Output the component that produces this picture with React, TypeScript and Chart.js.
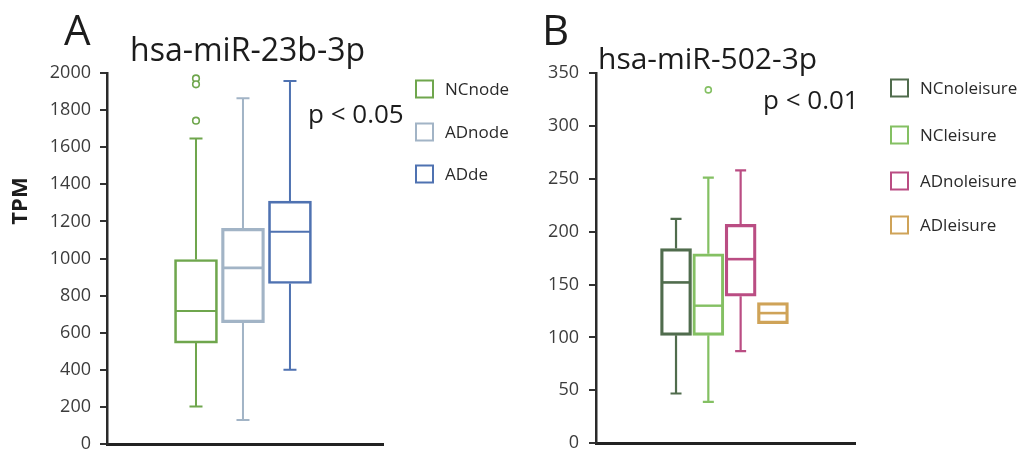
import React, { useEffect, useRef } from 'react';
import { Chart, registerables } from 'chart.js';
Chart.register(...registerables);

const FONT = '"Open Sans", "Noto Sans", sans-serif';

// ---------- Panel A: hsa-miR-23b-3p ----------
const groupsA = ['NCnode', 'ADnode', 'ADde'];
const colorsA = ['#6fa64d', '#a2b4c6', '#4f72b1'];
const minA = [203, 131, 401];
const q1A = [545, 655, 866];
const medA = [717, 950, 1144];
const q3A = [995, 1163, 1310];
const maxA = [1647, 1864, 1957];
const outliersA = [[1971, 1939, 1743], [], []];
const ticksA = { min: 0, max: 2000, step: 200 };

// ---------- Panel B: hsa-miR-502-3p ----------
const groupsB = ['NCnoleisure', 'NCleisure', 'ADnoleisure', 'ADleisure'];
const colorsB = ['#506c4d', '#84c063', '#ba4d83', '#cfa358'];
const minB = [47, 39, 87, 113];
const q1B = [102, 102, 139, 113];
const medB = [152, 130, 174, 123];
const q3B = [184, 179, 207, 133];
const maxB = [212, 251, 258, 133];
const outliersB = [[], [334], [], []];
const ticksB = { min: 0, max: 350, step: 50 };

type Panel = {
  groups: string[];
  colors: string[];
  min: number[];
  q1: number[];
  med: number[];
  q3: number[];
  max: number[];
  outliers: number[][];
  ticks: { min: number; max: number; step: number };
  xMin: number;
  xMax: number;
  barThickness: number;
  boxLine: number[];
  capWidth: number;
  whiskerLine: number;
  pointRadius: number;
  yWidth: number;
  tickPad: number;
  padding: { top: number; right: number; bottom: number; left: number };
  texts: { text: string; x: number; y: number; size: number; weight?: string; rotate?: boolean }[];
  legend: { x: number; textX: number; ys: number[]; size: number };
};

function makeChart(canvas: HTMLCanvasElement, p: Panel) {
  const datasets: any[] = p.groups.map((g, i) => ({
    type: 'bar',
    label: g,
    data: [{ x: i + 1, y: [p.q1[i], p.q3[i]] }],
    backgroundColor: 'rgba(255,255,255,0)',
    borderColor: p.colors[i],
    borderWidth: p.boxLine[i],
    borderSkipped: false,
    grouped: false,
    barThickness: p.barThickness,
  }));
  const outPts: any[] = [];
  const outCols: string[] = [];
  p.outliers.forEach((arr, i) =>
    arr.forEach((v) => {
      outPts.push({ x: i + 1, y: v });
      outCols.push(p.colors[i]);
    })
  );
  datasets.push({
    type: 'scatter',
    label: 'outliers',
    data: outPts,
    pointRadius: p.pointRadius,
    pointBorderWidth: 1.6,
    pointBorderColor: outCols,
    pointBackgroundColor: '#ffffff',
  });

  const boxPlugin = {
    id: 'boxWhiskers',
    afterDatasetsDraw(chart: any) {
      const { ctx } = chart;
      const xs = chart.scales.x;
      const ys = chart.scales.y;
      p.groups.forEach((_g, i) => {
        const el: any = chart.getDatasetMeta(i).data[0];
        const cx = xs.getPixelForValue(i + 1);
        const half = el.width / 2;
        const lw = p.boxLine[i];
        ctx.save();
        ctx.strokeStyle = p.colors[i];
        ctx.lineWidth = lw;
        const ym = ys.getPixelForValue(p.med[i]);
        ctx.beginPath();
        ctx.moveTo(cx - half + lw / 2, ym);
        ctx.lineTo(cx + half - lw / 2, ym);
        ctx.stroke();
        ctx.lineWidth = p.whiskerLine;
        const cw = p.capWidth / 2;
        if (p.max[i] > p.q3[i]) {
          const a = ys.getPixelForValue(p.q3[i]);
          const b = ys.getPixelForValue(p.max[i]);
          ctx.beginPath();
          ctx.moveTo(cx, a);
          ctx.lineTo(cx, b);
          ctx.moveTo(cx - cw, b);
          ctx.lineTo(cx + cw, b);
          ctx.stroke();
        }
        if (p.min[i] < p.q1[i]) {
          const a = ys.getPixelForValue(p.q1[i]);
          const b = ys.getPixelForValue(p.min[i]);
          ctx.beginPath();
          ctx.moveTo(cx, a);
          ctx.lineTo(cx, b);
          ctx.moveTo(cx - cw, b);
          ctx.lineTo(cx + cw, b);
          ctx.stroke();
        }
        ctx.restore();
      });
    },
  };

  const textPlugin = {
    id: 'panelTexts',
    afterDraw(chart: any) {
      const { ctx } = chart;
      ctx.save();
      p.texts.forEach((t) => {
        ctx.font = `${t.weight || 'normal'} ${t.size}px ${FONT}`;
        ctx.fillStyle = '#1c1c1c';
        if (t.rotate) {
          ctx.save();
          ctx.translate(t.x, t.y);
          ctx.rotate(-Math.PI / 2);
          ctx.textAlign = 'center';
          ctx.textBaseline = 'middle';
          ctx.fillText(t.text, 0, 0);
          ctx.restore();
        } else {
          ctx.textAlign = 'left';
          ctx.textBaseline = 'alphabetic';
          ctx.fillText(t.text, t.x, t.y);
        }
      });
      // legend
      const L = p.legend;
      const s = 17;
      p.groups.forEach((g, i) => {
        const cy = L.ys[i];
        ctx.strokeStyle = p.colors[i];
        ctx.lineWidth = 2;
        ctx.strokeRect(L.x + 1, cy - s / 2, s, s);
        ctx.fillStyle = '#2a2a2a';
        ctx.font = `${L.size}px ${FONT}`;
        ctx.textAlign = 'left';
        ctx.textBaseline = 'middle';
        ctx.fillText(g, L.textX, cy + 1);
      });
      ctx.restore();
    },
  };

  return new Chart(canvas, {
    type: 'bar',
    data: { datasets },
    options: {
      animation: false,
      responsive: false,
      layout: { padding: p.padding },
      plugins: { legend: { display: false }, tooltip: { enabled: false } },
      scales: {
        x: {
          type: 'linear',
          min: p.xMin,
          max: p.xMax,
          offset: false,
          ticks: { display: false },
          grid: { display: false },
          border: { display: true, color: '#222', width: 3 },
          afterFit: (s: any) => {
            s.height = 0;
          },
        },
        y: {
          min: p.ticks.min,
          max: p.ticks.max,
          ticks: {
            stepSize: p.ticks.step,
            color: '#3c3c3c',
            padding: p.tickPad,
            font: { family: FONT, size: 18 },
            callback: (v: any) => String(v),
          },
          grid: {
            display: true,
            drawOnChartArea: false,
            drawTicks: true,
            tickLength: 7,
            color: '#333',
            lineWidth: 2,
          },
          border: { display: true, color: '#2a2a2a', width: 2.5 },
          afterFit: (s: any) => {
            s.width = p.yWidth;
          },
        },
      },
    } as any,
    plugins: [boxPlugin, textPlugin],
  } as any);
}

const panelA: Panel = {
  groups: groupsA,
  colors: colorsA,
  min: minA,
  q1: q1A,
  med: medA,
  q3: q3A,
  max: maxA,
  outliers: outliersA,
  ticks: ticksA,
  xMin: -0.894,
  xMax: 4.98,
  barThickness: 43,
  boxLine: [2, 2.6, 2],
  capWidth: 13,
  whiskerLine: 2,
  pointRadius: 3.3,
  yWidth: 107,
  tickPad: 9,
  padding: { top: 73, right: 133, bottom: 17, left: 0 },
  texts: [
    { text: 'A', x: 64, y: 45, size: 42 },
    { text: 'hsa-miR-23b-3p', x: 130, y: 61, size: 32 },
    { text: 'p < 0.05', x: 308, y: 123, size: 26 },
    { text: 'TPM', x: 21, y: 201, size: 22, weight: 'bold', rotate: true },
  ],
  legend: { x: 415, textX: 445, ys: [89, 132, 174], size: 17 },
};

const panelB: Panel = {
  groups: groupsB,
  colors: colorsB,
  min: minB,
  q1: q1B,
  med: medB,
  q3: q3B,
  max: maxB,
  outliers: outliersB,
  ticks: ticksB,
  xMin: -1.477,
  xMax: 6.54,
  barThickness: 31,
  boxLine: [2.6, 2.4, 2.6, 2.6],
  capWidth: 11,
  whiskerLine: 2.2,
  pointRadius: 3,
  yWidth: 80,
  tickPad: 10,
  padding: { top: 73, right: 177, bottom: 10, left: 0 },
  texts: [
    { text: 'B', x: 26, y: 45, size: 42 },
    { text: 'hsa-miR-502-3p', x: 82, y: 69, size: 30 },
    { text: 'p < 0.01', x: 247, y: 109, size: 26 },
  ],
  legend: { x: 374, textX: 404, ys: [88, 135, 181, 225], size: 17 },
};

export default function App() {
  const refA = useRef<HTMLCanvasElement>(null);
  const refB = useRef<HTMLCanvasElement>(null);
  useEffect(() => {
    document.body.style.margin = '0';
    const a = makeChart(refA.current!, panelA);
    const b = makeChart(refB.current!, panelB);
    return () => {
      a.destroy();
      b.destroy();
    };
  }, []);
  return (
    <div style={{ position: 'absolute', left: 0, top: 0, width: 1032, height: 464, background: '#fff' }}>
      <canvas ref={refA} width={516} height={464} style={{ position: 'absolute', left: 0, top: 0 }} />
      <canvas ref={refB} width={516} height={464} style={{ position: 'absolute', left: 516, top: 0 }} />
    </div>
  );
}
